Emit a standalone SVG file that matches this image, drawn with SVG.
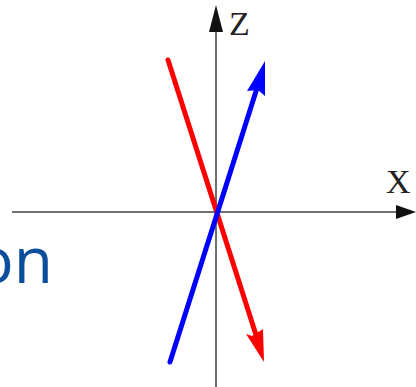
<svg xmlns="http://www.w3.org/2000/svg" width="416" height="387" viewBox="0 0 416 387">
<style>
.axis{stroke:#707070;stroke-width:2;fill:none}
.lbl{font-family:"Liberation Serif",serif;font-size:34px;fill:#222}
.on{font-family:"Open Sans","Liberation Sans",sans-serif;font-size:64px;fill:#0b4f9c}
</style>
<rect width="416" height="387" fill="#fff"/>
<g id="connectors">
<line class="axis" x1="12" y1="212" x2="400" y2="212"/>
<polygon points="416,212 396,205 396,219" fill="#111"/>
<line class="axis" x1="216" y1="387" x2="216" y2="28"/>
<polygon points="216,5 209,32 223,32" fill="#111"/>
<line x1="168" y1="60" x2="257" y2="338" stroke="#f00" stroke-width="5" stroke-linecap="round"/>
<polygon points="264,362 246,334 252,336 263,329" fill="#f00"/>
<line x1="170" y1="362" x2="258" y2="85" stroke="#00f" stroke-width="5" stroke-linecap="round"/>
<polygon points="265,61 265,96 258,90 247,91" fill="#00f"/>
</g>
<g id="z-label"><text class="lbl" x="229" y="35">Z</text></g>
<g id="x-label"><text class="lbl" x="386" y="193">X</text></g>
<g id="on-text"><text class="on" x="53" y="283" text-anchor="end">on</text></g>
</svg>
